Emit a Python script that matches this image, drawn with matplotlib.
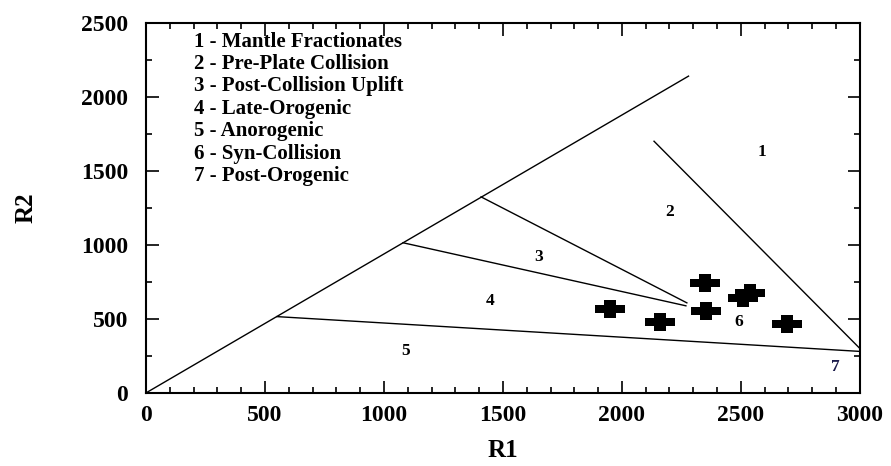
from __future__ import annotations

import matplotlib

matplotlib.use("Agg")

import matplotlib.pyplot as plt
from matplotlib.path import Path
from matplotlib.ticker import MultipleLocator

# sample points (R1, R2)
SAMPLE_R1 = [1950, 2160, 2350, 2355, 2510, 2540, 2695]
SAMPLE_R2 = [565, 480, 745, 550, 640, 675, 465]

# field boundaries, each as (x list, y list)
BOUNDARY_LINES = [
    ([0, 2280], [0, 2140]),
    ([1408, 2273], [1324, 608]),
    ([1080, 2269], [1014, 588]),
    ([550, 3000], [515, 280]),
    ([2135, 3000], [1700, 300]),
]

FIELD_NAMES = [
    "1 - Mantle Fractionates",
    "2 - Pre-Plate Collision",
    "3 - Post-Collision Uplift",
    "4 - Late-Orogenic",
    "5 - Anorogenic",
    "6 - Syn-Collision",
    "7 - Post-Orogenic",
]
FIELD_LABELS = ["1", "2", "3", "4", "5", "6", "7"]
FIELD_LABEL_X = [2590, 2200, 1650, 1445, 1090, 2490, 2895]
FIELD_LABEL_Y = [1630, 1220, 920, 620, 280, 480, 175]

FONT = "Liberation Serif"


def wide_plus() -> Path:
    # filled plus, wider than tall like in the source picture
    w, h, bar_h, bar_w = 1.0, 0.62, 0.28, 0.38
    verts = [
        (-w, -bar_h), (-bar_w, -bar_h), (-bar_w, -h), (bar_w, -h),
        (bar_w, -bar_h), (w, -bar_h), (w, bar_h), (bar_w, bar_h),
        (bar_w, h), (-bar_w, h), (-bar_w, bar_h), (-w, bar_h), (-w, -bar_h),
    ]
    codes = [Path.MOVETO] + [Path.LINETO] * (len(verts) - 2) + [Path.CLOSEPOLY]
    return Path(verts, codes)


def style_axes(ax: plt.Axes) -> None:
    ax.set_xlim(0, 3000)
    ax.set_ylim(0, 2500)
    ax.xaxis.set_major_locator(MultipleLocator(500))
    ax.xaxis.set_minor_locator(MultipleLocator(100))
    ax.yaxis.set_major_locator(MultipleLocator(500))
    ax.yaxis.set_minor_locator(MultipleLocator(250))
    ax.tick_params(which="both", direction="in", top=True, right=True, width=1.2, colors="black")
    ax.tick_params(which="major", length=9)
    ax.tick_params(which="minor", length=4)
    ax.tick_params(axis="x", which="major", pad=9)
    ax.tick_params(axis="y", which="major", pad=13)
    for spine in ax.spines.values():
        spine.set_linewidth(1.5)
    for label in ax.get_xticklabels() + ax.get_yticklabels():
        label.set_fontfamily(FONT)
        label.set_fontweight("bold")
        label.set_fontsize(17)


def main() -> None:
    fig = plt.figure(figsize=(8.91, 4.66), dpi=100)
    ax = fig.add_axes([0.164, 0.157, 0.801, 0.794])

    for xs, ys in BOUNDARY_LINES:
        ax.plot(xs, ys, color="black", linewidth=1.0)

    ax.plot(SAMPLE_R1, SAMPLE_R2, linestyle="none", marker=wide_plus(), markersize=22,
            color="black", markeredgewidth=0)

    for label, x, y in zip(FIELD_LABELS, FIELD_LABEL_X, FIELD_LABEL_Y):
        color = "#1a1a4a" if label == "7" else "black"
        ax.text(x, y, label, fontfamily=FONT, fontweight="bold", fontsize=12.5,
                ha="center", va="center", color=color)

    for index, name in enumerate(FIELD_NAMES):
        ax.text(200, 2372 - index * 151, name, fontfamily=FONT, fontweight="bold",
                fontsize=15, ha="left", va="center")

    style_axes(ax)
    ax.set_xlabel("R1", fontfamily=FONT, fontweight="bold", fontsize=18, labelpad=9)
    ax.set_ylabel("R2", fontfamily=FONT, fontweight="bold", fontsize=18, labelpad=31)

    fig.savefig("out.png", dpi=100)
    plt.close(fig)


if __name__ == "__main__":
    main()
